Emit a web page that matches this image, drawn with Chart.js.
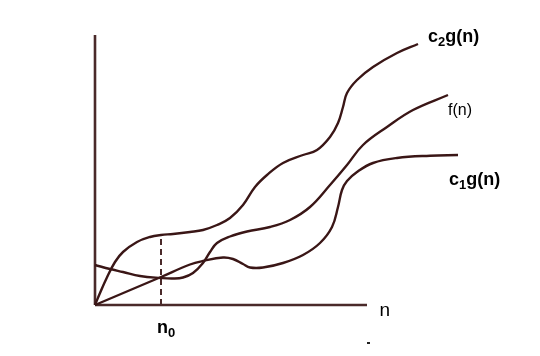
<!DOCTYPE html>
<html>
<head>
<meta charset="utf-8">
<script src="https://cdn.jsdelivr.net/npm/chart.js@4"></script>
<style>
html,body{margin:0;padding:0;background:#fff;}
#wrap{width:540px;height:356px;}
</style>
</head>
<body>
<div id="wrap"><canvas id="c" width="540" height="356"></canvas></div>
<script>
// n positions and heights (height above the n axis)
const c2X = [95,100,106.7,115,123,137,150,161,173,190,203,217,230,243,255,267,283,303,317,330,338,343,347,357,373,397,418];
const c2Y = [0,12,27,43,53,63,68,70,71,73,75,80,87,100,118,130,142,150,155,168,182,198,212,225,238,252,261];
const fX  = [95,110,123,140,161,173,183,193,203,210,217,230,247,270,290,310,330,347,363,387,413,448];
const fY  = [40,36,33,29,27,26.5,27.5,32,42,53,62,68.5,73.5,78,85,98,120,140,160,178,195,210];
const c1X = [95,128,161,190,203,223,233,243,250,263,283,303,320,332,338,342,347,357,373,397,430,458];
const c1Y = [0,14,28,40.5,44,47.5,46,41,37.5,37.5,42,50,62,78,98,115,124,133,142,147,149.3,150];
const axisX = [95,367];
const axisYTop = 270;
const n0 = 161;
const n0Height = 68;

const curveColor = '#3a1616';
const axisColor = '#4a2a2a';
const pts = (xs, ys) => xs.map((x,i)=>({x:x,y:ys[i]}));

const labels = {
  id:'labels',
  afterDraw(chart){
    const ctx = chart.ctx;
    ctx.save();
    ctx.fillStyle = '#000';
    ctx.textBaseline = 'alphabetic';
    function sub(x, y, main, s, rest, size, bold){
      const w = bold ? 'bold ' : '';
      ctx.font = w + size + 'px "Liberation Sans", Arial, sans-serif';
      ctx.fillText(main, x, y);
      let cx = x + ctx.measureText(main).width;
      ctx.font = w + Math.round(size*0.7) + 'px "Liberation Sans", Arial, sans-serif';
      ctx.fillText(s, cx, y + size*0.2);
      cx += ctx.measureText(s).width;
      if (rest){
        ctx.font = w + size + 'px "Liberation Sans", Arial, sans-serif';
        ctx.fillText(rest, cx, y);
      }
    }
    sub(428, 42, 'c', '2', 'g(n)', 18, true);
    sub(449, 185, 'c', '1', 'g(n)', 18, true);
    ctx.font = '16px "Liberation Sans", Arial, sans-serif';
    ctx.fillText('f(n)', 448, 115);
    ctx.font = '19px "Liberation Sans", Arial, sans-serif';
    ctx.fillText('n', 379.5, 316);
    sub(157, 333, 'n', '0', '', 18, true);
    ctx.fillStyle = '#222';
    ctx.fillRect(367, 342, 3, 2);
    ctx.restore();
  }
};

new Chart(document.getElementById('c'), {
  type:'line',
  data:{datasets:[
    {data:pts(c2X,c2Y), borderColor:curveColor, borderWidth:2.4, pointRadius:0, tension:0.4},
    {data:pts(fX,fY), borderColor:curveColor, borderWidth:2.4, pointRadius:0, tension:0.4},
    {data:pts(c1X,c1Y), borderColor:curveColor, borderWidth:2.4, pointRadius:0, tension:0.4},
    {data:[{x:axisX[0],y:0},{x:axisX[1],y:0}], borderColor:axisColor, borderWidth:2.6, pointRadius:0, tension:0},
    {data:[{x:axisX[0],y:0},{x:axisX[0],y:axisYTop}], borderColor:axisColor, borderWidth:2.6, pointRadius:0, tension:0},
    {data:[{x:n0,y:0},{x:n0,y:n0Height}], borderColor:axisColor, borderWidth:2, borderDash:[6,4], pointRadius:0, tension:0}
  ]},
  options:{
    responsive:false, animation:false,
    layout:{padding:0},
    plugins:{legend:{display:false}, tooltip:{enabled:false}},
    scales:{
      x:{type:'linear', min:0, max:540, display:false},
      y:{type:'linear', min:-51, max:305, display:false}
    }
  },
  plugins:[labels]
});
</script>
</body>
</html>
